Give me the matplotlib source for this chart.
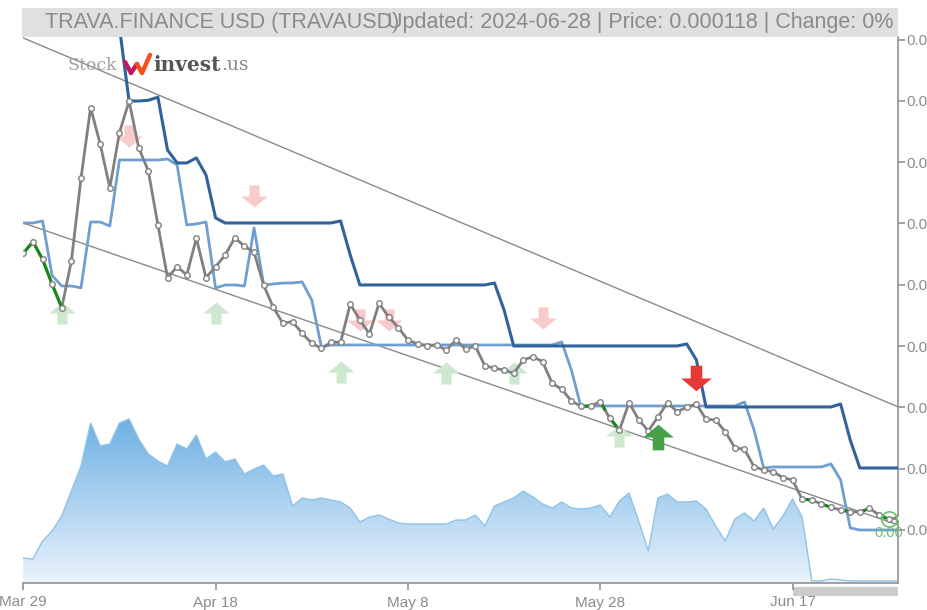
import numpy as np
import matplotlib
matplotlib.use("Agg")
import matplotlib.pyplot as plt
from matplotlib.path import Path
from matplotlib.patches import Rectangle
from matplotlib.colors import LinearSegmentedColormap
from matplotlib.ticker import FixedLocator, FuncFormatter

plt.rcParams['font.family'] = ['Liberation Sans', 'DejaVu Sans']

# ---------------- data (prices in millionths of USD) ----------------
price = [161.14, 163.03, 160.16, 156.08, 152.26, 159.88, 173.37, 184.89, 178.92, 171.84,
         180.81, 185.98, 178.37, 174.56, 165.76, 157.16, 158.95, 157.60, 163.59, 157.16,
         158.95, 160.86, 163.68, 162.28, 161.30, 155.92, 152.30, 149.72, 149.98, 148.09,
         146.46, 145.64, 146.62, 146.64, 152.84, 150.26, 147.97, 152.98, 150.75, 149.03,
         147.00, 146.34, 146.07, 146.13, 145.36, 147.00, 145.48, 146.02, 142.80, 142.38,
         142.10, 141.56, 143.73, 144.27, 143.46, 139.93, 138.95, 137.04, 136.18, 136.23,
         136.93, 134.22, 132.31, 136.77, 133.99, 132.15, 134.43, 136.77, 135.30, 136.02,
         136.55, 134.06, 133.94, 132.04, 129.43, 129.16, 126.33, 125.79, 125.51, 124.53,
         124.16, 121.01, 120.89, 120.24, 119.70, 119.26, 118.99, 118.89, 119.54, 118.45,
         117.75, 118.00]

upper_band = [205.0] * 10 + [198.0, 185.98, 185.98, 186.10, 186.60, 177.99, 175.87, 175.87, 176.69, 173.91,
              166.90] + [166.08] * 12 + [166.41, 160.86] + [155.97] * 14 + [156.29, 151.89] + \
             [146.02] * 18 + [146.34, 143.73] + [136.07] * 14 + [136.55, 130.68] + [126.11] * 5

lower_band = [166.08, 166.08, 166.41, 157.50, 155.80, 155.80, 155.50, 166.24, 166.24, 165.59,
              176.36, 176.36, 176.36, 176.36, 176.36, 176.52, 175.54, 165.76, 165.93, 166.24,
              155.48, 155.97, 155.97, 155.80, 165.27, 155.97, 156.13, 156.29, 156.29, 156.46,
              153.52, 145.85] + [146.18] * 24 + [146.67, 142.10, 136.07] + [136.23] * 16 + \
             [136.88, 132.31, 126.11] + [126.28] * 6 + [126.77, 124.16, 116.33] + [116.00] * 5

volume = [25, 24, 42, 52, 67, 92, 117, 160, 137, 139, 160, 164, 144, 129, 122, 117, 139, 134, 148, 124,
          131, 121, 124, 109, 114, 118, 107, 109, 77, 85, 83, 85, 83, 81, 75, 61, 66, 68, 64, 60,
          59, 59, 59, 59, 59, 63, 63, 68, 57, 77, 81, 85, 92, 86, 79, 75, 81, 75, 74, 75,
          78, 66, 82, 90, 62, 32, 85, 89, 81, 81, 82, 74, 57, 42, 64, 70, 62, 75, 54, 67,
          84, 66, 2, 2, 4, 3, 2, 2, 2, 2, 2, 2]

green_solid = (0, 4)
green_dashed = [(58, 62), (81, 91)]

trend_upper = [(0, 196.26), (91, 136.07)]
trend_lower = [(0, 166.08), (91, 116.82)]

buy_weak_x = [4, 20, 33, 44, 51, 62]
buy_weak_y = [151.4, 151.4, 141.77, 141.6, 141.6, 131.33]
sell_weak_x = [11, 24, 35, 38, 54]
sell_weak_y = [180.27, 170.49, 150.26, 150.26, 150.58]
buy_strong = (66, 131.17)
sell_strong = (70, 140.8)

xtick_days = [0, 20, 40, 60, 80]
xtick_labels = ["Mar 29", "Apr 18", "May 8", "May 28", "Jun 17"]
ytick_vals = [116, 126, 136, 146, 156, 166, 176, 186, 196]

title_left = "TRAVA.FINANCE USD (TRAVAUSD)"
title_right = "Updated: 2024-06-28 | Price: 0.000118 | Change: 0%"

# ---------------- figure ----------------
W, H = 928, 610
fig = plt.figure(figsize=(W / 100, H / 100), dpi=100)
L, R, T, B = 23.3, 898.3, 37, 583
ax = fig.add_axes([L / W, (H - B) / H, (R - L) / W, (B - T) / H])
axv = fig.add_axes(ax.get_position(), sharex=ax)
axv.set_zorder(0)
ax.set_zorder(1)
ax.patch.set_alpha(0)

days = np.arange(len(price))
scale = 1e-6
p = np.array(price) * scale

# volume with gradient
vol = np.array(volume, dtype=float)
axv.set_ylim(0, B - T)
poly = axv.fill_between(days, 0, vol, facecolor='none', edgecolor='none')
cmap = LinearSegmentedColormap.from_list('vg', ['#eaf3fb', '#6aaee3'])
grad = np.linspace(0, 1, 256).reshape(-1, 1)
im = axv.imshow(grad, extent=[0, 91, 0, 170], origin='lower', aspect='auto', cmap=cmap,
                vmin=0, vmax=1, zorder=1)
im.set_clip_path(poly.get_paths()[0], transform=axv.transData)
axv.plot(days, vol, color='#8ec3ea', lw=1.0, zorder=2)
axv.axis('off')

# trend lines
for tl in (trend_upper, trend_lower):
    ax.plot([tl[0][0], tl[1][0]], [tl[0][1] * scale, tl[1][1] * scale],
            color='#8a8a8a', lw=1.0, zorder=2)

# bands
ax.plot(days, np.array(lower_band) * scale, color='#6f9fd0', lw=2.0, zorder=3)
ax.plot(days, np.array(upper_band) * scale, color='#30629c', lw=2.2, zorder=3)

# arrow markers
up_path = Path([(0, 0.42), (0.5, 0.0), (0.19, 0.0), (0.19, -0.42), (-0.19, -0.42),
                (-0.19, 0.0), (-0.5, 0.0), (0, 0.42)], closed=True)
down_path = Path([(x, -y) for x, y in up_path.vertices], closed=True)

ax.plot(buy_weak_x, np.array(buy_weak_y) * scale, linestyle='none', marker=up_path,
        markersize=19, color='#cde8cf', markeredgewidth=0, zorder=4)
ax.plot(sell_weak_x, np.array(sell_weak_y) * scale, linestyle='none', marker=down_path,
        markersize=19, color='#f8caca', markeredgewidth=0, zorder=4)

# price line
ax.plot(days, p, color='#808080', lw=2.0, zorder=5)
a, b = green_solid
ax.plot(days[a:b + 1], p[a:b + 1], color='#138a13', lw=2.2, zorder=6)
for a, b in green_dashed:
    ax.plot(days[a:b + 1], p[a:b + 1], color='#138a13', lw=2.2,
            linestyle=(0, (3.5, 3)), zorder=6)
ax.plot(days, p, linestyle='none', marker='o', markersize=4, markerfacecolor='white',
        markeredgecolor='#808080', markeredgewidth=1.0, zorder=7)

ax.plot([buy_strong[0]], [buy_strong[1] * scale], marker=up_path, markersize=22,
        color='#45a049', markeredgewidth=0, linestyle='none', zorder=8)
ax.plot([sell_strong[0]], [sell_strong[1] * scale], marker=down_path, markersize=22,
        color='#e53935', markeredgewidth=0, linestyle='none', zorder=8)

# last value marker and label
ax.plot([days[-2]], [p[-2]], marker='o', markersize=11, markerfacecolor='none',
        markeredgecolor='#6cc06c', markeredgewidth=1.2, linestyle='none', zorder=9)
ax.text(days[-2], 115.5 * scale, "0.00", color='#6cc06c', fontsize=10.5,
        ha='center', va='center', zorder=9)

# axes styling
ax.set_xlim(0, 91)
ax.set_ylim(107.35 * scale, 196.42 * scale)
for s in ('left', 'top'):
    ax.spines[s].set_visible(False)
for s in ('right', 'bottom'):
    ax.spines[s].set_color('#9a9a9a')
    ax.spines[s].set_linewidth(1.3)
ax.yaxis.tick_right()
ax.yaxis.set_major_locator(FixedLocator([v * scale for v in ytick_vals]))
ax.yaxis.set_major_formatter(FuncFormatter(lambda v, pos: f"{v:.2f}"))
ax.set_xticks(xtick_days)
ax.set_xticklabels(xtick_labels)
ax.tick_params(axis='y', colors='#9a9a9a', labelcolor='#8c8c8c', length=5, width=1.3,
               labelsize=11, pad=1)
ax.tick_params(axis='x', colors='#9a9a9a', labelcolor='#8c8c8c', length=5, width=1.3,
               labelsize=11, pad=4)

# navigator stub at bottom right
fig.patches.append(Rectangle((793 / W, (H - 596) / H), (898 - 793) / W, 9 / H,
                             transform=fig.transFigure, facecolor='#cccccc',
                             edgecolor='none', zorder=0))

# header
fig.patches.append(Rectangle((22 / W, (H - 37) / H), (898 - 22) / W, 29 / H,
                             transform=fig.transFigure, facecolor='#e0e0e0',
                             edgecolor='none', zorder=10))
fig.text(45 / W, (H - 22.5) / H, title_left, color='#8a8a8a', fontsize=15.5,
         ha='left', va='center', zorder=11)
fig.text(893 / W, (H - 22.5) / H, title_right, color='#8a8a8a', fontsize=15.5,
         ha='right', va='center', zorder=11)

# logo
fig.text(68 / W, (H - 65) / H, "Stock", color='#a0a0a0', fontsize=12.5,
         family='DejaVu Serif', ha='left', va='center', zorder=11)
fig.lines.append(plt.Line2D([125 / W, 131 / W, 137 / W], [(H - 62) / H, (H - 73) / H, (H - 64) / H],
                            transform=fig.transFigure, color='#c2185b', lw=3.2,
                            solid_capstyle='round', zorder=11))
fig.lines.append(plt.Line2D([137 / W, 142 / W, 150 / W], [(H - 64) / H, (H - 73) / H, (H - 55) / H],
                            transform=fig.transFigure, color='#f4511e', lw=3.2,
                            solid_capstyle='round', zorder=11))
fig.text(153 / W, (H - 65) / H, "invest", color='#555555', fontsize=14.5,
         family='DejaVu Serif', weight='bold', ha='left', va='center', zorder=11)
fig.text(221 / W, (H - 65) / H, ".us", color='#8a8a8a', fontsize=13.5,
         family='DejaVu Serif', ha='left', va='center', zorder=11)

fig.savefig("out.png", dpi=100)
